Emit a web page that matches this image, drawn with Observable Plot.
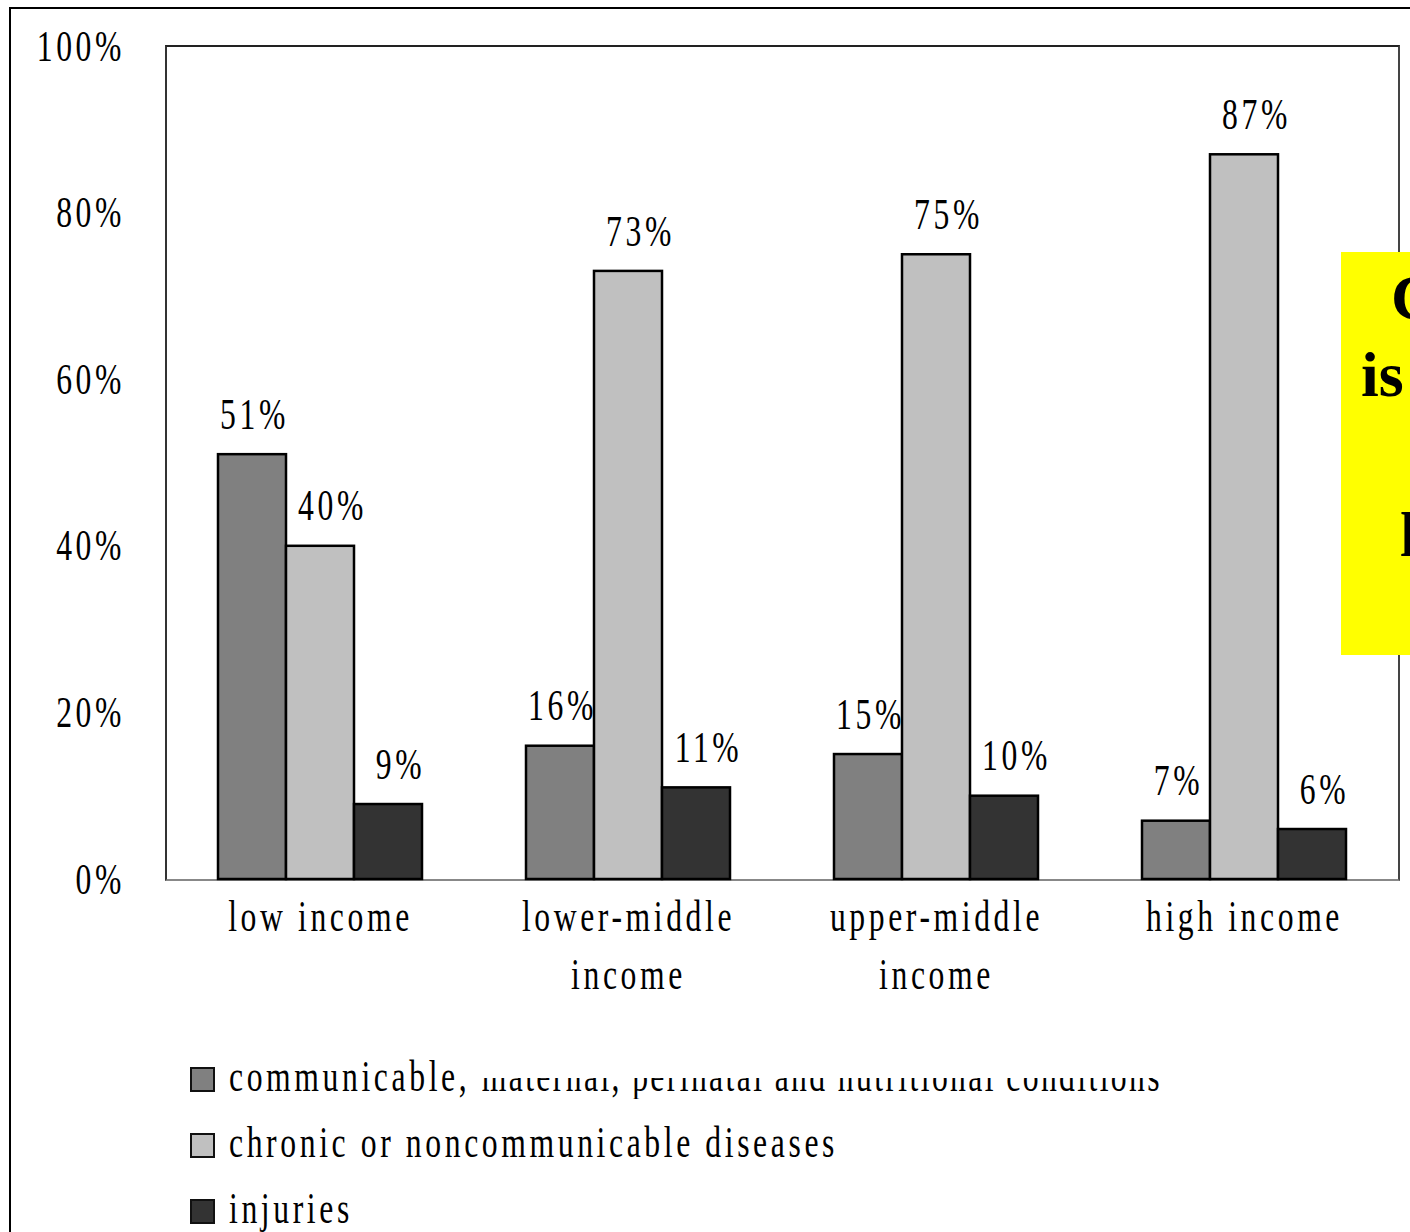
<!DOCTYPE html>
<html>
<head>
<meta charset="utf-8">
<script src="https://cdn.jsdelivr.net/npm/d3@7"></script>
<script src="https://cdn.jsdelivr.net/npm/@observablehq/plot@0.6"></script>
<style>
  html, body { margin: 0; padding: 0; background: #fff; width: 1410px; height: 1232px; overflow: hidden; }
  #page { position: relative; width: 1410px; height: 1232px; overflow: hidden; }
  #outer { position: absolute; left: 9px; top: 7px; width: 1500px; height: 1300px; border: 2px solid #000; box-sizing: border-box; }
  #pframe { position: absolute; left: 165px; top: 45px; width: 1235px; height: 836px; box-sizing: border-box;
            border-top: 2px solid #222; border-left: 2px solid #333; border-right: 2px solid #444; border-bottom: 2px solid #888; }
  #chart { position: absolute; left: 0; top: 0; }
  #chart svg text { font-family: "Liberation Serif", serif; font-size: 44px; letter-spacing: 5px; fill: #000; }
  #legend { position: absolute; left: 190px; top: 0; }
  .row { position: absolute; left: 0; white-space: nowrap; }
  .sw { position: absolute; left: 0; width: 25px; height: 25px; box-sizing: border-box; border: 2px solid #111; }
  .lt { position: absolute; left: 39px; top: 0; display: inline-block; font-family: "Liberation Serif", serif; font-size: 44px;
        line-height: 44px; letter-spacing: 5px; transform: scaleX(0.72); transform-origin: 0 0; color: #000; }
  .clip { display: inline-block; clip-path: inset(23px 0 0 0); letter-spacing: 3.3px; }
  #callout { position: absolute; left: 1341px; top: 252px; width: 300px; height: 403px; background: #ffff00; overflow: hidden; }
  #callout span { position: absolute; font-family: "Liberation Serif", serif; font-weight: bold; font-size: 64px; line-height: 64px; color: #000; white-space: nowrap; }
</style>
</head>
<body>
<div id="page">
  <div id="outer"></div>
  <div id="pframe"></div>
  <div id="chart"></div>
  <div id="legend"></div>
  <div id="callout">
    <span style="left:50px; top:14px;">Chronic</span>
    <span style="left:20px; top:91px;">is</span>
    <span style="left:59px; top:251px;">leading</span>
  </div>
</div>
<script>
// ---- data ----
const groups = ["low income", "lower-middle income", "upper-middle income", "high income"];
const groupLabels = ["low income", "lower-middle\nincome", "upper-middle\nincome", "high income"];
const series = [
  "communicable, maternal, perinatal and nutritional conditions",
  "chronic or noncommunicable diseases",
  "injuries"
];
const communicable = [51, 16, 15, 7];
const chronic = [40, 73, 75, 87];
const injuries = [9, 11, 10, 6];
const colors = ["#808080", "#c0c0c0", "#333333"];
const yTicks = [0, 20, 40, 60, 80, 100];
const labelDx = [2, 12, 12];

const seriesValues = [communicable, chronic, injuries];
const data = [];
groups.forEach((g, gi) => {
  series.forEach((s, si) => {
    data.push({group: g, series: s, value: seriesValues[si][gi]});
  });
});

const svg = Plot.plot({
  width: 1410,
  height: 1010,
  marginLeft: 166,
  marginRight: 11,
  marginTop: 46,
  marginBottom: 131,
  style: {background: "transparent", fontFamily: "Liberation Serif", fontSize: "44px", color: "#000"},
  facet: {data: data, x: "group"},
  fx: {domain: groups, paddingInner: 0.33, paddingOuter: 0.165, axis: null, label: null},
  x: {domain: series, padding: 0, axis: null, label: null},
  y: {domain: [0, 100], ticks: yTicks, tickFormat: d => d + "%", tickSize: 0, tickPadding: 38, label: null},
  color: {domain: series, range: colors},
  marks: [
    Plot.barY(data, {x: "series", y: "value", fill: "series", stroke: "#000", strokeWidth: 2.5}),
    ...series.map((s, si) => Plot.text(data, {
      filter: d => d.series === s,
      x: "series", y: "value", text: d => d.value + "%", dy: -40, dx: labelDx[si], fill: "#000"
    })),
    Plot.text(data, {
      filter: d => d.series === series[1],
      x: "series",
      text: d => groupLabels[groups.indexOf(d.group)],
      frameAnchor: "bottom",
      lineAnchor: "top",
      lineHeight: 1.32,
      dy: 10,
      fill: "#000"
    })
  ]
});
document.getElementById("chart").appendChild(svg);

// horizontally condense the serif text around its anchor, as in the original rendering
const S = 0.72;
svg.querySelectorAll("text").forEach(t => {
  const b = t.getBBox();
  const anchor = getComputedStyle(t).textAnchor;
  const ax = anchor === "end" ? b.x + b.width : anchor === "middle" ? b.x + b.width / 2 : b.x;
  const tr = t.getAttribute("transform") || "";
  t.setAttribute("transform", `${tr} translate(${ax},0) scale(${S},1) translate(${-ax},0)`);
});

// place y tick labels so their right edge sits 41px left of the frame
svg.querySelectorAll("text").forEach(t => {
  if (!/%$/.test(t.textContent)) return;
  const r = t.getBoundingClientRect();
  if (r.right < 190 && r.left < 166) {
    const shift = 125 - r.right;
    t.setAttribute("transform", `translate(${shift},0) ${t.getAttribute("transform") || ""}`);
  }
});

// ---- legend ----
const legend = document.getElementById("legend");
const rowTops = [1055, 1121, 1187];
series.forEach((s, i) => {
  const row = document.createElement("div");
  row.className = "row";
  row.style.top = rowTops[i] + "px";
  const sw = document.createElement("div");
  sw.className = "sw";
  sw.style.top = "12px";
  sw.style.background = colors[i];
  row.appendChild(sw);
  const lt = document.createElement("span");
  lt.className = "lt";
  if (i === 0) {
    const cut = s.indexOf(" ") + 1;
    lt.appendChild(document.createTextNode(s.slice(0, cut)));
    const c = document.createElement("span");
    c.className = "clip";
    c.textContent = s.slice(cut);
    lt.appendChild(c);
  } else {
    lt.textContent = s;
  }
  row.appendChild(lt);
  legend.appendChild(row);
});
</script>
</body>
</html>
